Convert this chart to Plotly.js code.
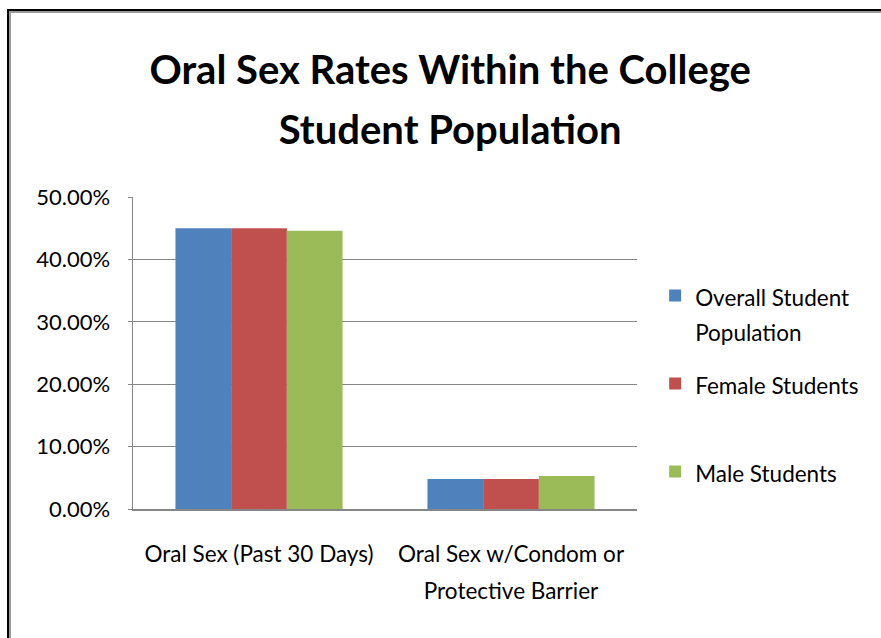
<!DOCTYPE html>
<html>
<head>
<meta charset="utf-8">
<script src="https://cdn.plot.ly/plotly-3.0.1.min.js"></script>
<style>
  html, body { margin: 0; padding: 0; background: #fff; }
  #wrap { position: relative; width: 881px; height: 638px; overflow: hidden; }
  #chart { width: 881px; height: 638px; }
  #frame { position: absolute; left: 7px; top: 9px; width: 900px; height: 700px;
           border-left: 2px solid #000; border-top: 2px solid #000;
           box-shadow: inset 2px 2px 0 #9a9a9a; pointer-events: none; }
</style>
</head>
<body>
<div id="wrap">
  <div id="chart"></div>
  <div id="frame"></div>
</div>
<script>
const categories = ['Oral Sex (Past 30 Days)', 'Oral Sex w/Condom or<br>Protective Barrier'];
const seriesNames = ['Overall Student<br>Population', 'Female Students', 'Male Students'];
const overallValues = [0.450, 0.048];
const femaleValues = [0.450, 0.048];
const maleValues = [0.446, 0.053];
const yTickVals = [0, 0.1, 0.2, 0.3, 0.4, 0.5];
const titleText = 'Oral Sex Rates Within the College<br>Student Population';

const colors = ['#4F81BD', '#C0504D', '#9BBB59'];
const seriesValues = [overallValues, femaleValues, maleValues];
const legendIds = ['legend', 'legend2', 'legend3'];

const FONT = 'Lato, "Open Sans", sans-serif';

// keep glyph size separate from line spacing (taller line pitch, like the original)
function sized(str, px) {
  return str.split('<br>').map(s => `<span style="font-size:${px}px">${s}</span>`).join('<br>');
}

const traces = seriesValues.map((vals, i) => ({
  type: 'bar',
  name: sized(seriesNames[i], 22.5),
  x: categories,
  y: vals,
  marker: { color: colors[i] },
  legend: legendIds[i],
  hoverinfo: 'none'
}));

function legendAt(yPaper) {
  return {
    x: 1.036, xanchor: 'left',
    y: yPaper, yanchor: 'top',
    bgcolor: 'rgba(0,0,0,0)',
    borderwidth: 0,
    valign: 'top',
    font: { family: FONT, size: 27, color: '#000' }
  };
}

const layout = {
  width: 881,
  height: 638,
  margin: { l: 133, r: 244, t: 197, b: 129 },
  paper_bgcolor: '#fff',
  plot_bgcolor: '#fff',
  font: { family: FONT, color: '#000' },
  title: {
    text: '<b>' + sized(titleText, 40) + '</b>',
    font: { family: FONT, size: 46, color: '#000' },
    x: 0.511, xanchor: 'center',
    xref: 'container', yref: 'container',
    y: 0.868, yanchor: 'middle'
  },
  barmode: 'group',
  bargap: 0.337,
  bargroupgap: 0,
  xaxis: {
    type: 'category',
    tickvals: categories,
    ticktext: categories.map(c => sized(c, 22.5)),
    showline: true,
    linecolor: '#868686',
    linewidth: 1.5,
    ticks: '',
    tickfont: { family: FONT, size: 28.5, color: '#000' },
    ticklabelstandoff: 17,
    showgrid: false,
    zeroline: false,
    fixedrange: true
  },
  yaxis: {
    range: [0, 0.5],
    tickvals: yTickVals,
    tickformat: '.2%',
    showline: true,
    linecolor: '#868686',
    linewidth: 1.5,
    ticks: 'outside',
    ticklen: 4,
    tickcolor: '#868686',
    showgrid: true,
    gridcolor: '#868686',
    gridwidth: 1.2,
    zeroline: false,
    tickfont: { family: FONT, size: 22, color: '#000' },
    ticklabelstandoff: 13,
    fixedrange: true
  },
  legend: legendAt(0.761),
  legend2: legendAt(0.479),
  legend3: legendAt(0.197),
  showlegend: true
};

Plotly.newPlot('chart', traces, layout, { displayModeBar: false, staticPlot: true });
</script>
</body>
</html>
